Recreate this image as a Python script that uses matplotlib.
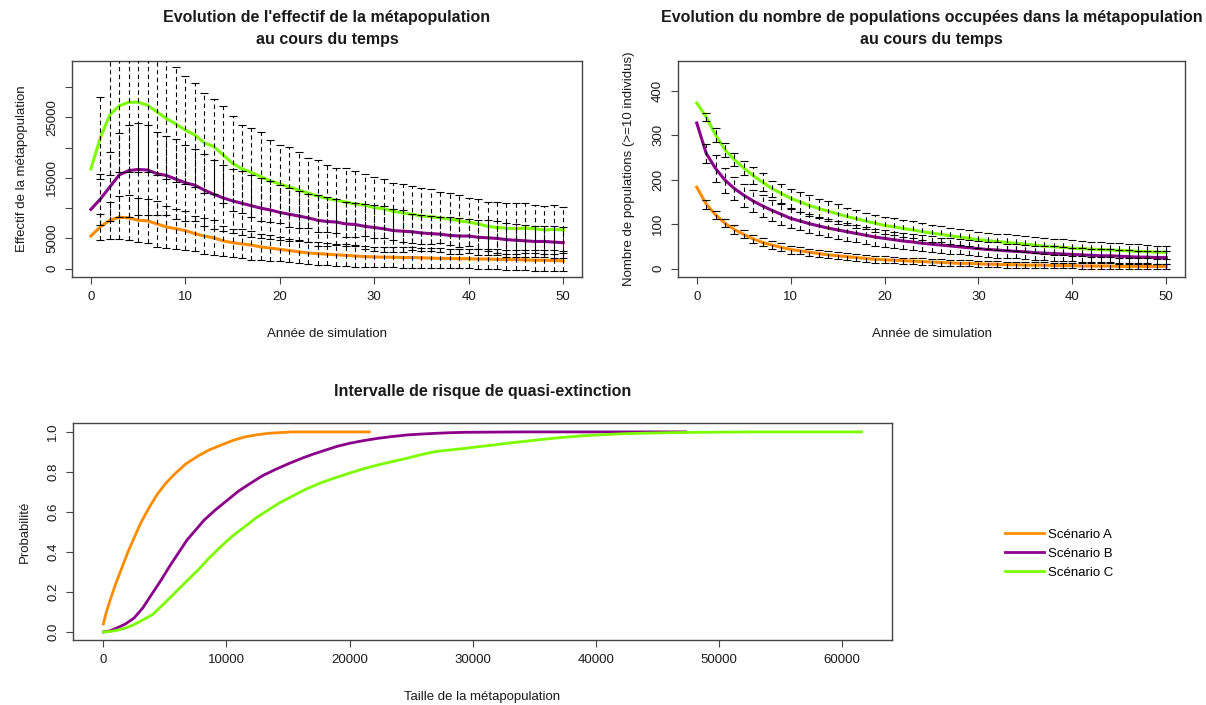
import numpy as np
import matplotlib
matplotlib.use("Agg")
import matplotlib.pyplot as plt
from matplotlib.lines import Line2D

plt.rcParams["font.family"] = ["Liberation Sans", "DejaVu Sans"]

# ---------------------------------------------------------------- data
annees = list(range(0, 51))
annees_barres = list(range(1, 51))

# Effectif de la métapopulation : moyenne (années 0-50) et écart-type (années 1-50)
effectif_A = [5400, 6900, 8000, 8500, 8400, 8000, 7900, 7400, 6900, 6600, 6300, 5800, 5400,
              5100, 4600, 4300, 4100, 3900, 3600, 3400, 3200, 3000, 2800, 2600, 2500, 2400,
              2300, 2200, 2100, 2000, 1950, 1900, 1900, 1850, 1850, 1800, 1750, 1700, 1700,
              1650, 1650, 1600, 1600, 1550, 1500, 1500, 1450, 1400, 1400, 1350, 1300]
ecart_A = [2100, 3100, 3550, 3700, 3600, 3600, 3800, 3400, 3300, 3200, 2900, 3000, 2900,
           2500, 2300, 2400, 2400, 2200, 2100, 2000, 1900, 1900, 1800, 1900, 1850, 1800,
           1800, 1750, 1700, 1650, 1700, 1700, 1700, 1700, 1650, 1650, 1650, 1600, 1600,
           1600, 1600, 1600, 1650, 1650, 1650, 1650, 1700, 1700, 1700, 1700]

effectif_B = [9800, 11500, 13500, 15500, 16200, 16400, 16300, 15700, 15400, 14800, 14200,
              13800, 13000, 12300, 11700, 11200, 10800, 10400, 10000, 9700, 9300, 9000,
              8700, 8400, 8000, 7800, 7700, 7400, 7300, 7000, 6800, 6600, 6300, 6200, 6100,
              5900, 5800, 5700, 5500, 5400, 5400, 5200, 5100, 5000, 4800, 4700, 4600, 4500,
              4500, 4400, 4300]
ecart_B = [4200, 5700, 6900, 7600, 7600, 7400, 6800, 6600, 6600, 6300, 5900, 5900, 5700,
           5400, 5300, 5300, 5100, 5000, 4800, 4500, 4400, 4200, 4000, 4200, 4100, 3800,
           3700, 3600, 3700, 3800, 3800, 3600, 3500, 3000, 3000, 2900, 2900, 3000, 2900,
           2800, 2900, 2900, 2800, 2800, 2700, 2700, 2600, 2600, 2600, 2600]

effectif_C = [16500, 21600, 25400, 26900, 27500, 27500, 27000, 25900, 24800, 23900, 22900,
              22100, 20800, 20200, 18800, 17400, 16500, 15900, 15200, 14500, 14000, 13500,
              13000, 12500, 12000, 11600, 11300, 11000, 10700, 10500, 10100, 9900, 9500,
              9200, 9000, 8700, 8600, 8400, 8200, 7900, 7700, 7400, 7000, 6800, 6700, 6600,
              6700, 6600, 6400, 6500, 6400]
ecart_C = [6700, 10000, 11000, 11500, 11500, 11000, 10500, 10000, 9500, 8900, 8600, 8300,
           7900, 8000, 7900, 7300, 7300, 7300, 6800, 6400, 6600, 6300, 5800, 6000, 5600,
           5400, 5700, 5500, 5100, 5100, 4900, 4700, 4800, 4700, 4700, 4600, 4200, 4300,
           4300, 4000, 4100, 4000, 4200, 4200, 4200, 4100, 4000, 4000, 4100, 3800]

# Nombre de populations occupées (>=10 individus)
pops_A = [183, 145, 121, 102, 88, 77, 67, 59, 53, 48, 43, 40, 37, 34, 31, 29, 27, 25, 23, 21,
          20, 19, 18, 17, 16, 15, 14, 13, 12, 12, 11, 10, 10, 9, 9, 8, 8, 8, 7, 7, 7, 6, 6,
          6, 6, 5, 5, 5, 5, 5, 5]
pops_ecart_A = [10, 9, 9, 9, 9, 9, 9, 9, 9, 9, 8, 8, 8, 8, 8, 8, 8, 8, 8, 8, 7, 7, 7, 7, 7,
                7, 7, 7, 7, 7, 7, 7, 7, 7, 7, 7, 6, 6, 6, 6, 6, 6, 6, 6, 6, 6, 6, 6, 6, 6]

pops_B = [327, 259, 225, 199, 180, 165, 152, 141, 131, 122, 113, 107, 101, 96, 91, 87, 83, 79,
          75, 71, 68, 65, 62, 60, 57, 55, 53, 51, 49, 47, 45, 43, 42, 40, 39, 38, 36, 35, 34,
          33, 32, 31, 30, 29, 29, 28, 27, 26, 26, 25, 25]
pops_ecart_B = [22, 30, 28, 25, 26, 25, 24, 23, 23, 22, 21, 21, 20, 20, 20, 20, 19, 19, 19,
                19, 18, 18, 18, 18, 18, 17, 17, 17, 17, 17, 17, 17, 16, 16, 16, 16, 16, 16,
                16, 15, 15, 15, 15, 15, 15, 14, 14, 14, 14, 14]

pops_C = [372, 341, 300, 267, 245, 226, 209, 194, 180, 169, 158, 150, 142, 135, 129, 123, 117,
          112, 107, 102, 97, 94, 90, 87, 83, 80, 77, 74, 71, 68, 65, 63, 61, 59, 57, 55, 53,
          51, 49, 48, 46, 45, 44, 43, 42, 41, 40, 39, 38, 37, 37]
pops_ecart_C = [9, 15, 16, 15, 16, 19, 20, 18, 21, 22, 22, 23, 22, 22, 22, 20, 20, 19, 19, 19,
                19, 19, 19, 19, 19, 18, 18, 18, 18, 18, 18, 18, 18, 18, 18, 18, 18, 18, 18,
                18, 17, 17, 17, 16, 16, 16, 16, 15, 15, 15]

# Risque de quasi-extinction selon la taille seuil de la métapopulation
taille_A = [0, 200, 500, 1000, 1500, 2000, 2500, 3000, 3700, 4400, 5100, 5800, 6700, 7700,
            8600, 9600, 10500, 11500, 12500, 13400, 14500, 15300, 21600]
proba_A = [0.04, 0.09, 0.15, 0.24, 0.32, 0.40, 0.47, 0.54, 0.62, 0.69, 0.745, 0.79, 0.84,
           0.88, 0.91, 0.935, 0.957, 0.975, 0.986, 0.993, 0.997, 1.0, 1.0]

taille_B = [0, 500, 1100, 1800, 2500, 3200, 4000, 4700, 5400, 6100, 6800, 7500, 8200, 9100,
            10100, 11000, 12000, 12900, 13900, 15000, 16200, 17100, 18100, 19000, 20000,
            21100, 22300, 23500, 24700, 25800, 27000, 28200, 29400, 31700, 34100, 47300]
proba_B = [0.0, 0.005, 0.02, 0.04, 0.07, 0.12, 0.195, 0.26, 0.33, 0.395, 0.46, 0.51, 0.56,
           0.61, 0.66, 0.705, 0.745, 0.78, 0.81, 0.84, 0.87, 0.89, 0.91, 0.928, 0.943, 0.956,
           0.968, 0.977, 0.985, 0.989, 0.993, 0.996, 0.998, 0.999, 1.0, 1.0]

taille_C = [0, 600, 1100, 1800, 2500, 3200, 4000, 4900, 5800, 6700, 7700, 8600, 9600, 10500,
            11500, 12400, 13400, 14300, 15300, 16400, 17600, 18800, 20000, 21100, 22300,
            23500, 24700, 25800, 27000, 28200, 29400, 30600, 31800, 32900, 34100, 35300,
            36500, 37600, 38800, 40000, 41200, 42300, 43500, 45900, 48300, 50600, 53000, 61600]
proba_C = [0.0, 0.003, 0.008, 0.02, 0.037, 0.06, 0.087, 0.14, 0.195, 0.25, 0.31, 0.37, 0.43,
           0.48, 0.527, 0.57, 0.61, 0.645, 0.677, 0.712, 0.744, 0.77, 0.794, 0.815, 0.835,
           0.852, 0.869, 0.886, 0.902, 0.91, 0.918, 0.927, 0.935, 0.944, 0.952, 0.96, 0.968,
           0.974, 0.98, 0.984, 0.988, 0.991, 0.993, 0.996, 0.998, 0.999, 1.0, 1.0]

scenarios = ["Scénario A", "Scénario B", "Scénario C"]
couleurs = ["#FF8C00", "#8B008B", "#7CFC00"]

# ---------------------------------------------------------------- style
W, H = 1206, 705
FRAME = "#444444"
TXT = "#1a1a1a"
FS = 9.5


def cadre(ax):
    for s in ax.spines.values():
        s.set_color(FRAME)
        s.set_linewidth(1.0)
    ax.tick_params(direction="out", length=5, width=0.8, color=FRAME,
                   labelsize=FS, labelcolor=TXT)
    ax.tick_params(axis="x", pad=5)
    ax.tick_params(axis="y", pad=5, labelrotation=90)
    for lab in ax.get_yticklabels():
        lab.set_va("center")


def barres(ax, x, m, s):
    eb = ax.errorbar(x, m, yerr=s, fmt="none", ecolor="black", elinewidth=0.8,
                     capsize=2.8, capthick=0.8, zorder=3)
    eb[2][0].set_linestyle((0, (4, 3)))


fig = plt.figure(figsize=(W / 100, H / 100), dpi=100)

ax1 = fig.add_axes([72 / W, 1 - 276.7 / H, 510 / W, 216 / H])
ax2 = fig.add_axes([678 / W, 1 - 276.7 / H, 507 / W, 216 / H])
ax3 = fig.add_axes([73 / W, 1 - 640 / H, 819 / W, 217.3 / H])

# ---- effectif
for moy, et, c in [(effectif_A, ecart_A, couleurs[0]),
                   (effectif_B, ecart_B, couleurs[1]),
                   (effectif_C, ecart_C, couleurs[2])]:
    ax1.plot(annees, moy, color=c, lw=2.2, zorder=2)
    barres(ax1, annees_barres, moy[1:], et)
ax1.set_xlim(-2, 52)
ax1.set_ylim(-1320, 34360)
ax1.set_xticks(range(0, 51, 10))
ax1.set_yticks(range(0, 30001, 5000))
ax1.set_yticklabels(["0", "5000", "", "15000", "", "25000", ""])
cadre(ax1)
ax1.set_xlabel("Année de simulation", fontsize=FS, color=TXT, labelpad=18)
ax1.set_ylabel("Effectif de la métapopulation", fontsize=FS, color=TXT, labelpad=13)
ax1.set_title("Evolution de l'effectif de la métapopulation\nau cours du temps",
              fontsize=11.5, fontweight="bold", color=TXT, pad=12, linespacing=1.55)

# ---- populations occupées
for moy, et, c in [(pops_A, pops_ecart_A, couleurs[0]),
                   (pops_B, pops_ecart_B, couleurs[1]),
                   (pops_C, pops_ecart_C, couleurs[2])]:
    ax2.plot(annees, moy, color=c, lw=2.2, zorder=2)
    barres(ax2, annees_barres, moy[1:], et)
ax2.set_xlim(-2, 52)
ax2.set_ylim(-18, 467)
ax2.set_xticks(range(0, 51, 10))
ax2.set_yticks(range(0, 401, 100))
cadre(ax2)
ax2.set_xlabel("Année de simulation", fontsize=FS, color=TXT, labelpad=18)
ax2.set_ylabel("Nombre de populations (>=10 individus)", fontsize=FS, color=TXT, labelpad=12)
ax2.set_title("Evolution du nombre de populations occupées dans la métapopulation\nau cours du temps",
              fontsize=11.5, fontweight="bold", color=TXT, pad=12, linespacing=1.55)

# ---- quasi-extinction
for t, p, c in [(taille_A, proba_A, couleurs[0]),
                (taille_B, proba_B, couleurs[1]),
                (taille_C, proba_C, couleurs[2])]:
    ax3.plot(t, p, color=c, lw=2.0)
ax3.set_xlim(-2464, 64064)
ax3.set_ylim(-0.04, 1.046)
ax3.set_xticks(range(0, 60001, 10000))
ax3.set_yticks([0, 0.2, 0.4, 0.6, 0.8, 1.0])
ax3.set_yticklabels(["0.0", "0.2", "0.4", "0.6", "0.8", "1.0"])
cadre(ax3)
ax3.set_xlabel("Taille de la métapopulation", fontsize=FS, color=TXT, labelpad=18)
ax3.set_ylabel("Probabilité", fontsize=FS, color=TXT, labelpad=12)
ax3.set_title("Intervalle de risque de quasi-extinction",
              fontsize=11.5, fontweight="bold", color=TXT, pad=19)

handles = [Line2D([], [], color=c, lw=2.0) for c in couleurs]
fig.legend(handles, scenarios, loc="upper left",
           bbox_to_anchor=(993 / W, 1 - 517 / H), frameon=False, fontsize=FS,
           handlelength=3.0, handletextpad=0.3, labelspacing=0.5)

fig.savefig("out.png", dpi=100, facecolor="white")
